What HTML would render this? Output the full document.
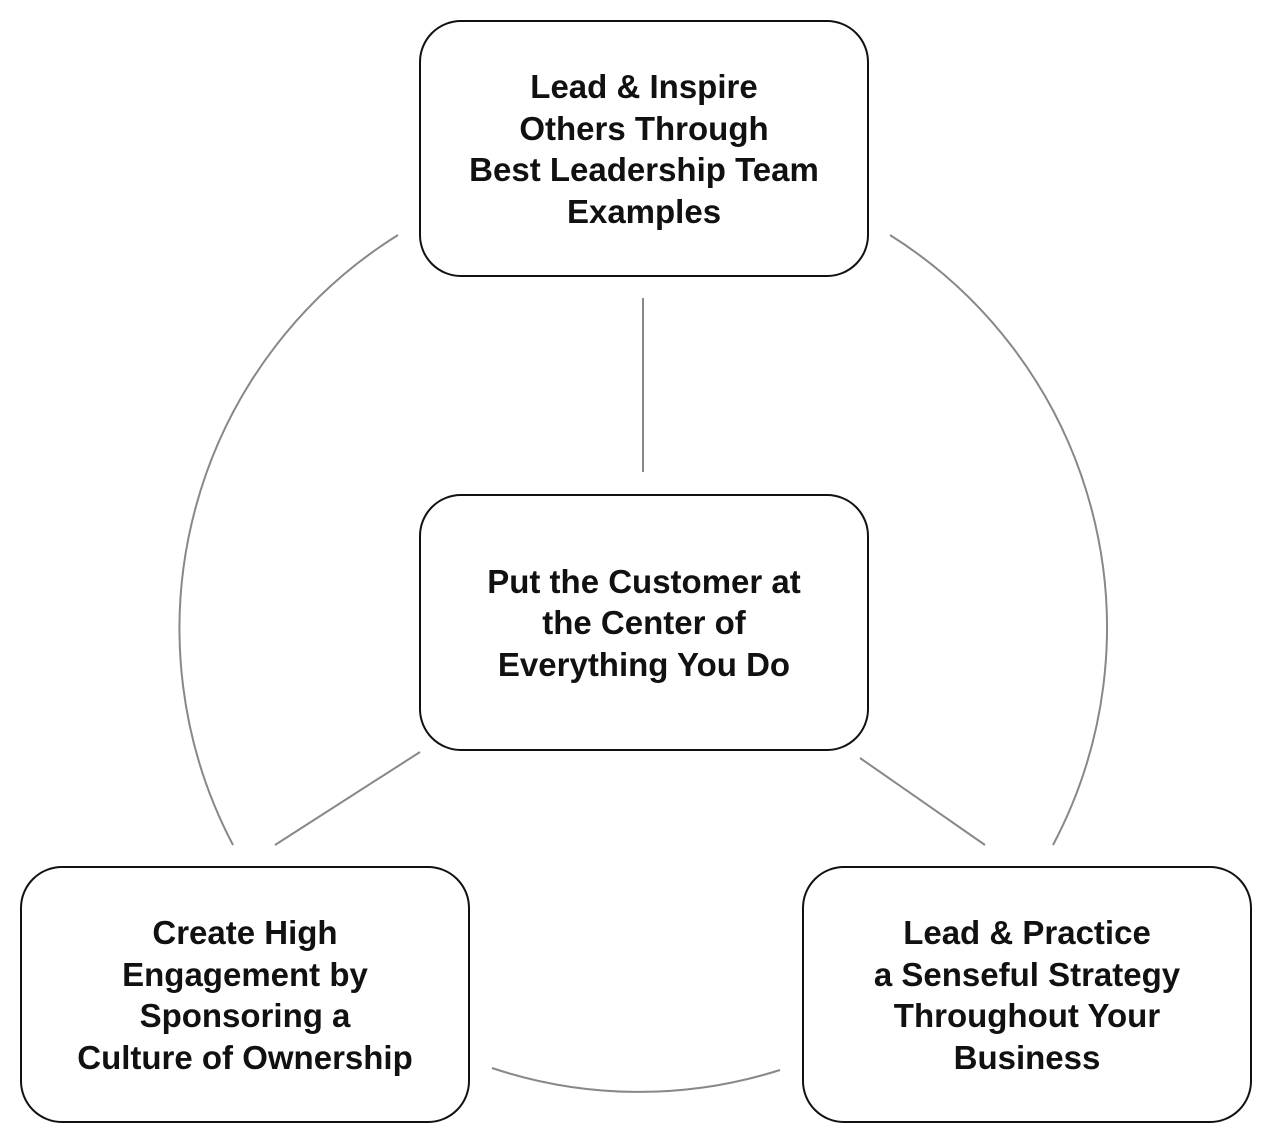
<!DOCTYPE html>
<html><head><meta charset="utf-8"><style>
html,body{margin:0;padding:0;background:#fff;}
body{width:1272px;height:1144px;position:relative;overflow:hidden;font-family:"Liberation Sans",sans-serif;}
.b{position:absolute;width:450px;height:257px;border:2px solid #111;border-radius:42px;box-sizing:border-box;display:flex;align-items:center;justify-content:center;text-align:center;font-weight:bold;font-size:33px;line-height:41.5px;color:#111;background:#fff;padding-top:1px;}
svg{position:absolute;left:0;top:0;}
</style></head><body>
<svg width="1272" height="1144" fill="none" stroke="#888" stroke-width="2">
<line x1="643" y1="298" x2="643" y2="472"/>
<line x1="420" y1="752" x2="275" y2="845"/>
<line x1="860" y1="758" x2="985" y2="845"/>
<path d="M398 235 A464 464 0 0 0 233 845"/>
<path d="M890 235 A464 464 0 0 1 1053 845"/>
<path d="M492 1068 A464 464 0 0 0 780 1070"/>
</svg>
<div class="b" style="left:419px;top:20px;">Lead &amp; Inspire<br>Others Through<br>Best Leadership Team<br>Examples</div>
<div class="b" style="left:419px;top:494px;">Put the Customer at<br>the Center of<br>Everything You Do</div>
<div class="b" style="left:20px;top:866px;">Create High<br>Engagement by<br>Sponsoring a<br>Culture of Ownership</div>
<div class="b" style="left:802px;top:866px;">Lead &amp; Practice<br>a Senseful Strategy<br>Throughout Your<br>Business</div>
</body></html>
